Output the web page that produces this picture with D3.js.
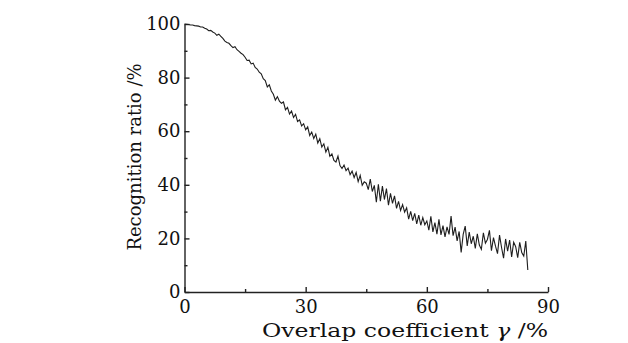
<!DOCTYPE html>
<html>
<head>
<meta charset="utf-8">
<script src="https://cdn.jsdelivr.net/npm/d3@7"></script>
<style>
  body { margin: 0; background: #fff; }
  text { font-family: "DejaVu Serif", serif; }
</style>
</head>
<body>
<div id="chart"></div>
<script>
// overlap coefficient (%), sampled every 0.5
const overlap = [
  0, 0.5, 1, 1.5, 2, 2.5, 3, 3.5, 4, 4.5,
  5, 5.5, 6, 6.5, 7, 7.5, 8, 8.5, 9, 9.5,
  10, 10.5, 11, 11.5, 12, 12.5, 13, 13.5, 14, 14.5,
  15, 15.5, 16, 16.5, 17, 17.5, 18, 18.5, 19, 19.5,
  20, 20.5, 21, 21.5, 22, 22.5, 23, 23.5, 24, 24.5,
  25, 25.5, 26, 26.5, 27, 27.5, 28, 28.5, 29, 29.5,
  30, 30.5, 31, 31.5, 32, 32.5, 33, 33.5, 34, 34.5,
  35, 35.5, 36, 36.5, 37, 37.5, 38, 38.5, 39, 39.5,
  40, 40.5, 41, 41.5, 42, 42.5, 43, 43.5, 44, 44.5,
  45, 45.5, 46, 46.5, 47, 47.5, 48, 48.5, 49, 49.5,
  50, 50.5, 51, 51.5, 52, 52.5, 53, 53.5, 54, 54.5,
  55, 55.5, 56, 56.5, 57, 57.5, 58, 58.5, 59, 59.5,
  60, 60.5, 61, 61.5, 62, 62.5, 63, 63.5, 64, 64.5,
  65, 65.5, 66, 66.5, 67, 67.5, 68, 68.5, 69, 69.5,
  70, 70.5, 71, 71.5, 72, 72.5, 73, 73.5, 74, 74.5,
  75, 75.5, 76, 76.5, 77, 77.5, 78, 78.5, 79, 79.5,
  80, 80.5, 81, 81.5, 82, 82.5, 83, 83.5, 84, 84.5,
  85
];

// recognition ratio (%)
const ratio = [
  100, 99.9, 99.8, 99.6, 99.6, 99.4, 99.3, 99.2, 98.9, 98.9,
  98.4, 98.1, 97.5, 97.6, 97.0, 96.6, 95.8, 96.2, 95.4, 94.6,
  93.6, 93.1, 92.8, 91.9, 91.2, 91.5, 90.4, 89.8, 89.1, 88.6,
  87.6, 86.4, 86.5, 85.1, 85.4, 83.8, 83.2, 82.0, 81.4, 79.6,
  78.9, 76.5, 77.3, 75.0, 73.8, 71.6, 72.9, 71.2, 70.4, 70.9,
  68.0, 68.9, 66.4, 67.5, 65.1, 66.3, 63.6, 64.2, 62.0, 62.8,
  60.5, 61.6, 58.4, 59.7, 57.3, 58.9, 55.6, 57.2, 54.1, 55.3,
  52.2, 54.0, 50.6, 51.5, 49.1, 48.5, 50.7, 47.2, 46.1, 47.4,
  45.3, 46.2, 43.8, 45.1, 42.7, 44.6, 41.2, 43.5, 39.8, 41.1,
  40.6, 38.2, 42.1, 37.5, 39.8, 33.5, 40.2, 33.9, 39.5, 34.5,
  38.6, 32.4, 36.8, 33.1, 35.9, 31.2, 33.8, 30.4, 32.6, 29.8,
  31.4, 27.2, 30.1, 26.6, 29.3, 25.4, 28.7, 24.9, 27.8, 25.1,
  26.5, 23.1, 28.2, 22.4, 25.9, 21.6, 27.1, 21.3, 24.8, 20.6,
  24.3, 21.5, 28.3, 21.0, 24.2, 19.1, 22.6, 14.8, 21.5, 24.6,
  17.2, 22.4, 18.0, 20.8, 16.3, 21.7, 17.5, 15.9, 22.1, 18.2,
  19.6, 23.0, 15.4, 20.3, 17.1, 14.3, 21.2, 16.6, 12.6, 19.8,
  15.2, 19.4, 13.1, 18.6, 16.9, 12.8, 18.5, 14.7, 13.4, 19.0,
  8.2
];

const xTicks = [0, 30, 60, 90];
const xMinor = [15, 45, 75];
const yTicks = [0, 20, 40, 60, 80, 100];
const yMinor = [10, 30, 50, 70, 90];

const width = 628;
const height = 343;
const margin = {top: 24, right: 80, bottom: 51, left: 184.5};

const data = overlap.map((d, i) => ({x: d, y: ratio[i]}));

const x = d3.scaleLinear()
  .domain([0, 90])
  .range([margin.left, width - margin.right]);

const y = d3.scaleLinear()
  .domain([0, 100])
  .range([height - margin.bottom, margin.top]);

const svg = d3.select("#chart")
  .append("svg")
  .attr("width", width)
  .attr("height", height);

// minor ticks first, no domain
svg.append("g")
  .attr("transform", `translate(0,${height - margin.bottom})`)
  .call(d3.axisBottom(x).tickValues(xMinor).tickSize(-3).tickFormat(""))
  .call(g => g.select(".domain").remove());

svg.append("g")
  .attr("transform", `translate(${margin.left},0)`)
  .call(d3.axisLeft(y).tickValues(yMinor).tickSize(-3).tickFormat(""))
  .call(g => g.select(".domain").remove());

const xAxis = svg.append("g")
  .attr("transform", `translate(0,${height - margin.bottom})`)
  .call(d3.axisBottom(x).tickValues(xTicks).tickSizeInner(-5).tickSizeOuter(0).tickPadding(8));

const yAxis = svg.append("g")
  .attr("transform", `translate(${margin.left},0)`)
  .call(d3.axisLeft(y).tickValues(yTicks).tickSizeInner(-5).tickSizeOuter(0).tickPadding(4));

svg.selectAll(".tick text")
  .style("font-size", "18px")
  .attr("fill", "#111");
svg.selectAll(".domain, .tick line")
  .attr("stroke", "#222")
  .attr("stroke-width", 1.4);

svg.append("path")
  .datum(data)
  .attr("fill", "none")
  .attr("stroke", "#1e1e1e")
  .attr("stroke-width", 1.1)
  .attr("d", d3.line().x(d => x(d.x)).y(d => y(d.y)));

// axis titles (x title stretched like the original's wide serif)
const xt = svg.append("text")
  .attr("x", 405)
  .attr("y", 337)
  .attr("text-anchor", "middle")
  .attr("textLength", 286)
  .attr("lengthAdjust", "spacingAndGlyphs")
  .style("font-size", "19px")
  .attr("fill", "#111");
xt.append("tspan").text("Overlap coefficient ");
xt.append("tspan").style("font-style", "italic").text("γ");
xt.append("tspan").text(" /%");

svg.append("text")
  .attr("transform", `translate(141,157) rotate(-90)`)
  .attr("text-anchor", "middle")
  .style("font-size", "18px")
  .attr("fill", "#111")
  .text("Recognition ratio /%");
</script>
</body>
</html>
